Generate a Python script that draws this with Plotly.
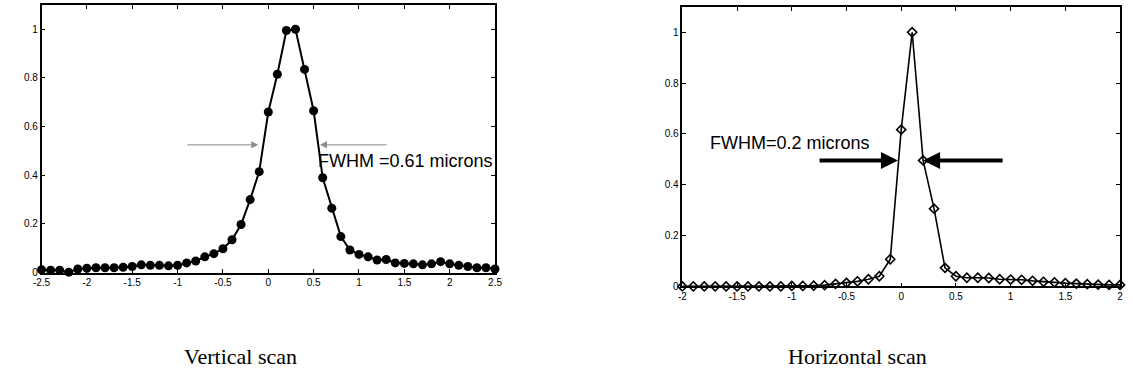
import plotly.graph_objects as go

# ---------------- data ----------------
vert_x = [-2.5, -2.4, -2.3, -2.2, -2.1, -2.0, -1.9, -1.8, -1.7, -1.6, -1.5,
          -1.4, -1.3, -1.2, -1.1, -1.0, -0.9, -0.8, -0.7, -0.6, -0.5,
          -0.4, -0.3, -0.2, -0.1, 0.0, 0.1, 0.2, 0.3, 0.4, 0.5,
          0.6, 0.7, 0.8, 0.9, 1.0, 1.1, 1.2, 1.3, 1.4, 1.5,
          1.6, 1.7, 1.8, 1.9, 2.0, 2.1, 2.2, 2.3, 2.4, 2.5]
vert_y = [0.012, 0.010, 0.010, 0.002, 0.015, 0.018, 0.020, 0.020, 0.020, 0.022, 0.025,
          0.032, 0.030, 0.030, 0.028, 0.030, 0.040, 0.048, 0.065, 0.078, 0.098,
          0.135, 0.198, 0.300, 0.415, 0.660, 0.815, 0.995, 1.000, 0.835, 0.665,
          0.390, 0.265, 0.148, 0.093, 0.075, 0.065, 0.052, 0.054, 0.040, 0.038,
          0.036, 0.032, 0.036, 0.045, 0.036, 0.030, 0.025, 0.020, 0.020, 0.015]

horiz_x = [-2.0, -1.9, -1.8, -1.7, -1.6, -1.5, -1.4, -1.3, -1.2, -1.1, -1.0,
           -0.9, -0.8, -0.7, -0.6, -0.5, -0.4, -0.3, -0.2, -0.1, 0.0,
           0.1, 0.2, 0.3, 0.4, 0.5, 0.6, 0.7, 0.8, 0.9, 1.0,
           1.1, 1.2, 1.3, 1.4, 1.5, 1.6, 1.7, 1.8, 1.9, 2.0]
horiz_y = [0.0, 0.0, 0.0, 0.0, 0.0, 0.0, 0.0, 0.0, 0.0, 0.0, 0.002,
           0.002, 0.003, 0.005, 0.010, 0.014, 0.020, 0.028, 0.040, 0.107, 0.617,
           1.000, 0.496, 0.306, 0.073, 0.040, 0.034, 0.034, 0.033, 0.028, 0.027,
           0.026, 0.022, 0.018, 0.016, 0.013, 0.011, 0.009, 0.007, 0.006, 0.006]

vert_xticks = [-2.5, -2, -1.5, -1, -0.5, 0, 0.5, 1, 1.5, 2, 2.5]
vert_xtext = ["-2.5", "-2", "-1.5", "-1", "-0.5", "0", "0.5", "1", "1.5", "2", "2.5"]
horiz_xticks = [-2, -1.5, -1, -0.5, 0, 0.5, 1, 1.5, 2]
horiz_xtext = ["-2", "-1.5", "-1", "-0.5", "0", "0.5", "1", "1.5", "2"]
yticks = [0, 0.2, 0.4, 0.6, 0.8, 1]
ytext = ["0", "0.2", "0.4", "0.6", "0.8", "1"]

vert_label = "FWHM =0.61 microns"
horiz_label = "FWHM=0.2 microns"
caption_left = "Vertical scan"
caption_right = "Horizontal scan"

# ---------------- figure ----------------
W, H = 1133, 381
fig = go.Figure()

fig.add_trace(go.Scatter(
    x=vert_x, y=vert_y, mode="lines+markers", xaxis="x", yaxis="y",
    line=dict(color="black", width=2),
    marker=dict(symbol="circle", size=9, color="black"),
    cliponaxis=False, showlegend=False))

fig.add_trace(go.Scatter(
    x=horiz_x, y=horiz_y, mode="lines+markers", xaxis="x2", yaxis="y2",
    line=dict(color="black", width=1.6),
    marker=dict(symbol="diamond-open", size=7, color="black", line=dict(width=1.6)),
    cliponaxis=False, showlegend=False))

tickfont = dict(family="Arial, Liberation Sans, sans-serif", size=10, color="black")
axis_common = dict(showline=True, linecolor="black", linewidth=1.5, mirror="allticks",
                   ticks="inside", ticklen=4, tickcolor="black", showgrid=False,
                   zeroline=False, tickfont=tickfont, fixedrange=True)

fig.update_layout(
    width=W, height=H, margin=dict(l=0, r=0, t=0, b=0),
    paper_bgcolor="white", plot_bgcolor="white",
    xaxis=dict(domain=[33 / W, 493 / W], range=[-2.5, 2.5], anchor="y",
               tickvals=vert_xticks, ticktext=vert_xtext, **axis_common),
    yaxis=dict(domain=[1 - 277 / H, 1 - 5 / H], range=[0, 1.1], anchor="x",
               tickvals=yticks, ticktext=ytext, **axis_common),
    xaxis2=dict(domain=[683 / W, 1127 / W], range=[-2, 2], anchor="y2",
                tickvals=horiz_xticks, ticktext=horiz_xtext, **axis_common),
    yaxis2=dict(domain=[1 - 291 / H, 1 - 7 / H], range=[0, 1.1], anchor="x2",
                tickvals=yticks, ticktext=ytext, **axis_common),
)

label_font = dict(family="Arial, Liberation Sans, sans-serif", size=18, color="black")
anns = []
# left plot: thin grey arrows
anns.append(dict(x=-0.11, y=0.525, ax=-0.91, ay=0.525, xref="x", yref="y",
                 axref="x", ayref="y", showarrow=True, arrowhead=2, arrowsize=1.4,
                 arrowwidth=1, arrowcolor="#8c8c8c", text=""))
anns.append(dict(x=0.57, y=0.525, ax=1.32, ay=0.525, xref="x", yref="y",
                 axref="x", ayref="y", showarrow=True, arrowhead=2, arrowsize=1.4,
                 arrowwidth=1, arrowcolor="#8c8c8c", text=""))
anns.append(dict(x=2.5, y=0.46, xref="x", yref="y", text=vert_label, showarrow=False,
                 xanchor="right", yanchor="middle", font=label_font))
# right plot: thick black arrows
anns.append(dict(x=-0.03, y=0.496, ax=-0.76, ay=0.496, xref="x2", yref="y2",
                 axref="x2", ayref="y2", showarrow=True, arrowhead=2, arrowsize=0.85,
                 arrowwidth=4, arrowcolor="black", text=""))
anns.append(dict(x=0.2, y=0.496, ax=0.94, ay=0.496, xref="x2", yref="y2",
                 axref="x2", ayref="y2", showarrow=True, arrowhead=2, arrowsize=0.85,
                 arrowwidth=4, arrowcolor="black", text=""))
anns.append(dict(x=-1.77, y=0.566, xref="x2", yref="y2", text=horiz_label, showarrow=False,
                 xanchor="left", yanchor="middle", font=label_font))
# captions
cap_font = dict(family="Liberation Serif, Times New Roman, serif", size=22, color="black")
anns.append(dict(x=235 / W, y=1 - 362 / H, xref="paper", yref="paper", text=caption_left,
                 showarrow=False, xanchor="center", yanchor="middle", font=cap_font))
anns.append(dict(x=861 / W, y=1 - 362 / H, xref="paper", yref="paper", text=caption_right,
                 showarrow=False, xanchor="center", yanchor="middle", font=cap_font))

fig.update_layout(annotations=anns)

fig.write_html("out.html", config={"displayModeBar": False},
               post_script="document.body.style.margin='0';document.body.style.overflow='hidden';")
